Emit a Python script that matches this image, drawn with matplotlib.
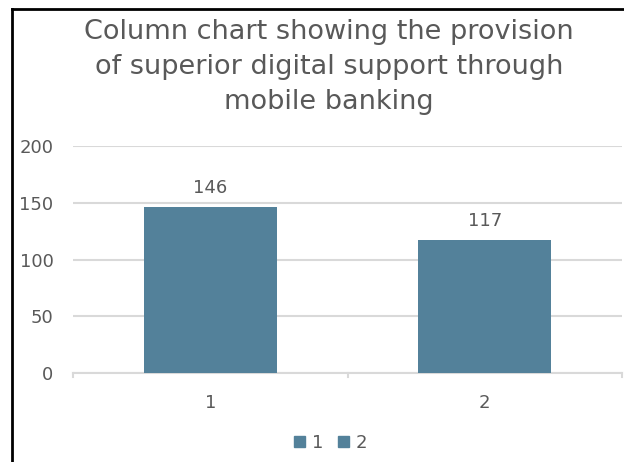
import matplotlib.pyplot as plt
from matplotlib.patches import Patch
from matplotlib.lines import Line2D

categories = ['1', '2']
values = [146, 117]
y_ticks = [0, 50, 100, 150, 200]
title = 'Column chart showing the provision\nof superior digital support through\nmobile banking'

bar_color = '#53819a'
text_gray = '#595959'
grid_gray = '#d9d9d9'

plt.rcParams['font.family'] = ['DejaVu Sans']

fig = plt.figure(figsize=(6.24, 4.62), dpi=100)
ax = fig.add_axes([73 / 624, 1 - 373 / 462, 549 / 624, 227 / 462])

x = list(range(len(categories)))
bars = ax.bar(x, values, width=0.485, color=bar_color, zorder=3)
for b, v in zip(bars, values):
    ax.text(b.get_x() + b.get_width() / 2, v + 9, str(v), ha='center', va='bottom',
            fontsize=13, color=text_gray)

ax.set_xlim(-0.5, len(categories) - 0.5)
ax.set_ylim(0, 200)
ax.set_yticks(y_ticks)
ax.set_yticklabels([str(t) for t in y_ticks])
ax.set_xticks(x)
ax.set_xticklabels(categories)
ax.tick_params(axis='y', length=0, pad=14, labelsize=13, labelcolor=text_gray)
ax.tick_params(axis='x', length=0, pad=15, labelsize=13, labelcolor=text_gray)
ax.grid(axis='y', color=grid_gray, linewidth=1.5, zorder=0)
for s in ['top', 'right', 'left']:
    ax.spines[s].set_visible(False)
ax.spines['bottom'].set_color(grid_gray)
ax.spines['bottom'].set_linewidth(1.5)
# small category boundary ticks
for bx in [-0.5, 0.5, 1.5]:
    ax.plot([bx, bx], [0, -3.5], color=grid_gray, linewidth=1.5, clip_on=False)

fig.text(0.527, 1 - 67 / 462, title, ha='center', va='center', fontsize=19.5,
         color=text_gray, linespacing=1.43)

handles = [Patch(color=bar_color) for _ in categories]
fig.legend(handles, categories, loc='center', bbox_to_anchor=(0.53, 1 - 443 / 462),
           ncol=2, frameon=False, fontsize=13, labelcolor=text_gray,
           handlelength=0.6, handleheight=0.6, handletextpad=0.4, columnspacing=0.8)

# chart border on top and left
fig.add_artist(Line2D([12 / 624, 1], [1 - 9 / 462, 1 - 9 / 462], color='black', linewidth=2))
fig.add_artist(Line2D([12 / 624, 12 / 624], [0, 1 - 9 / 462], color='black', linewidth=2))

fig.savefig('out.png', dpi=100)
